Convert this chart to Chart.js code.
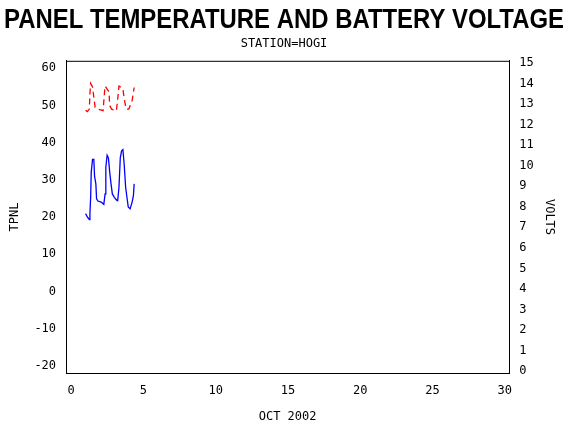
<!DOCTYPE html>
<html>
<head>
<script src="https://cdn.jsdelivr.net/npm/chart.js@4"></script>
<style>body{margin:0;background:#fff}#wrap{width:570px;height:430px}</style>
</head>
<body>
<div id="wrap"><canvas id="c" width="570" height="430"></canvas></div>
<script>
// temperature (left axis) samples: day of month, TPNL
const tempDays = [1.0,1.12,1.26,1.30,1.35,1.39,1.48,1.57,1.62,1.71,1.76,1.85,2.08,2.26,2.35,2.40,2.49,2.58,2.67,2.76,2.85,2.99,3.13,3.22,3.31,3.40,3.49,3.58,3.67,3.77,3.86,3.95,4.08,4.22,4.31,4.36];
const tempVals = [20.9,20,19.3,20.9,25.3,32,35.5,35.5,31,28.9,24.9,24.3,24,23.4,26.2,33.3,36.6,35.9,32,28.9,26.2,25.3,24.6,24.4,28,35.9,37.8,38.1,34.2,28,25.3,22.7,22.2,24,25.8,28.9];
// battery volts (right axis)
const voltDays = [1.0,1.12,1.26,1.30,1.35,1.48,1.57,1.66,1.85,2.21,2.30,2.35,2.62,2.67,2.80,3.13,3.26,3.31,3.58,3.67,3.81,3.99,4.22,4.36];
const voltVals = [12.7,12.63,12.75,13.5,14,13.83,13.33,12.83,12.75,12.67,13.5,13.87,13.58,12.92,12.75,12.67,13.5,13.87,13.75,13.25,12.75,12.75,13.17,13.8];
const xTicks = [0,5,10,15,20,25,30];

const mono = {family: '"DejaVu Sans Mono", monospace', size: 12};
const black = '#000';

function fixTicks(vals) {
    return axis => { axis.ticks = vals.map(v => ({value: v})); };
}

new Chart(document.getElementById('c').getContext('2d'), {
    type: 'line',
    data: {
        datasets: [
            {
                label: 'TPNL',
                data: tempDays.map((d, i) => ({x: d, y: tempVals[i]})),
                borderColor: '#0000ff', borderWidth: 1.3, pointRadius: 0, yAxisID: 'y', tension: 0
            },
            {
                label: 'VOLTS',
                data: voltDays.map((d, i) => ({x: d, y: voltVals[i]})),
                borderColor: '#ff0000', borderWidth: 1.3, borderDash: [6, 4], pointRadius: 0, yAxisID: 'y2', tension: 0
            }
        ]
    },
    options: {
        responsive: false,
        animation: false,
        layout: {padding: {left: 4, right: 6, bottom: 2}},
        plugins: {
            legend: {display: false},
            tooltip: {enabled: false},
            title: {display: true, text: 'PANEL TEMPERATURE AND BATTERY VOLTAGE', color: black,
                font: {family: '"Liberation Sans", Arial, sans-serif', size: 27}, padding: {top: 4, bottom: 0}},
            subtitle: {display: true, text: 'STATION=HOGI', color: black, font: mono, padding: {top: 0, bottom: 10}}
        },
        scales: {
            x: {
                type: 'linear', min: -0.35, max: 30.3,
                afterBuildTicks: fixTicks(xTicks),
                grid: {display: false, drawTicks: true, tickLength: 6, color: black},
                border: {color: black},
                ticks: {color: black, font: mono, padding: 4},
                title: {display: true, text: 'OCT 2002', color: black, font: mono, padding: {top: 8}}
            },
            y: {
                position: 'left', min: -22, max: 62,
                afterBuildTicks: fixTicks([-20,-10,0,10,20,30,40,50,60]),
                grid: {display: false, tickLength: 6, color: black},
                border: {color: black},
                ticks: {color: black, font: mono, padding: 4},
                title: {display: true, text: 'TPNL', color: black, font: mono, padding: {bottom: 8}}
            },
            y2: {
                position: 'right', min: -0.1, max: 15.1,
                afterBuildTicks: fixTicks([0,1,2,3,4,5,6,7,8,9,10,11,12,13,14,15]),
                grid: {display: false, tickLength: 6, color: black},
                border: {color: black},
                ticks: {color: black, font: mono, padding: 4},
                title: {display: true, text: 'VOLTS', color: black, font: mono, padding: {top: 8}}
            }
        }
    },
    plugins: [{
        id: 'frame',
        afterDraw(c) {
            const a = c.chartArea, g = c.ctx;
            g.save(); g.strokeStyle = black; g.lineWidth = 1;
            g.beginPath(); g.moveTo(a.left, a.top + 0.5); g.lineTo(a.right, a.top + 0.5); g.stroke();
            g.restore();
        }
    }]
});
</script>
</body>
</html>
